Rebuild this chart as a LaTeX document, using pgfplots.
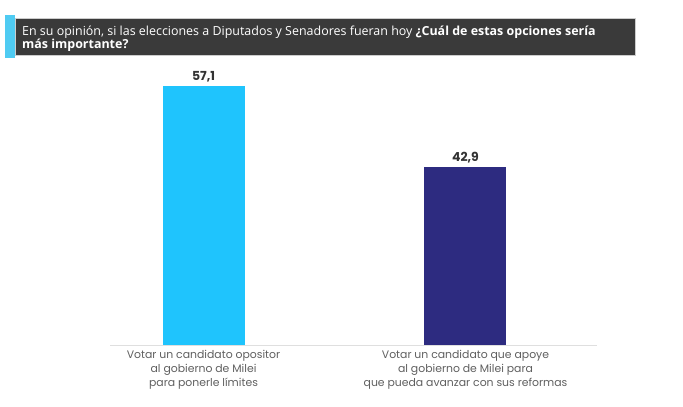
\documentclass[border=0pt]{standalone}
\usepackage{pgfplots}
\pgfplotsset{compat=1.18}
\usepackage{fontspec}
\setmainfont{Open Sans}
\newfontfamily\lblfont{Poppins}
\definecolor{barcyan}{HTML}{1FC4FD}
\definecolor{barnavy}{HTML}{2D2B80}
\definecolor{hdrdark}{HTML}{3A3A3A}
\definecolor{stripe}{HTML}{4FCBF2}
\definecolor{lblgray}{HTML}{606060}
\definecolor{numgray}{HTML}{333333}
\begin{document}
\begin{tikzpicture}
\path[use as bounding box, fill=white] (0,0) rectangle (683bp,407bp);
% header
\fill[hdrdark] (15bp,352bp) rectangle (635bp,389bp);
\draw[gray!40, line width=0.6bp] (15bp,352bp) rectangle (635bp,389bp);
\fill[stripe] (5bp,349bp) rectangle (15bp,392bp);
\node[anchor=base west, text=white, inner sep=0pt, font=\fontsize{12.5}{14}\selectfont] at (22bp,371bp)
  {En su opinión, si las elecciones a Diputados y Senadores fueran hoy \textbf{¿Cuál de estas opciones sería}};
\node[anchor=base west, text=white, inner sep=0pt, font=\fontsize{12.5}{14}\selectfont] at (22bp,358bp)
  {\textbf{más importante?}};
\begin{axis}[
  at={(110bp,62bp)}, anchor=south west,
  scale only axis, width=487bp, height=285bp,
  xmin=-0.357, xmax=1.502, ymin=11.7, ymax=61.7,
  axis x line*=bottom, axis y line=none,
  x axis line style={draw=gray!25, line width=0.8bp, -},
  xtick={0,1}, major tick length=0pt,
  xticklabels={{Votar un candidato opositor\\al gobierno de Milei\\para ponerle límites},
               {Votar un candidato que apoye\\al gobierno de Milei para\\que pueda avanzar con sus reformas}},
  xticklabel style={align=center, text=lblgray, font=\lblfont\fontsize{10.9}{14}\selectfont, yshift=-2bp},
  ybar, bar width=82bp,
  nodes near coords, point meta=explicit symbolic,
  every node near coord/.append style={font=\lblfont\bfseries\fontsize{12.5}{14}\selectfont, text=numgray, yshift=1bp},
  clip=false,
]
\addplot[fill=barcyan, draw=none, bar shift=0pt] coordinates {(0,57.1) [57,1]};
\addplot[fill=barnavy, draw=none, bar shift=0pt] coordinates {(1,42.9) [42,9]};
\end{axis}
\end{tikzpicture}
\end{document}
